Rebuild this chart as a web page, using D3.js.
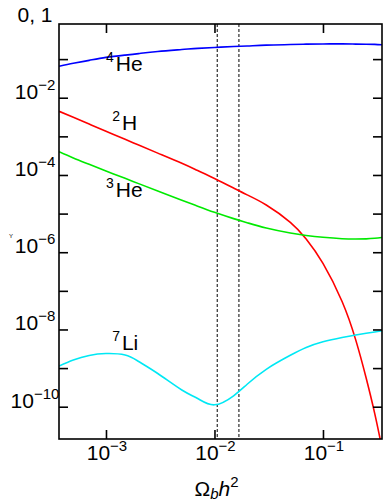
<!DOCTYPE html>
<html>
<head>
<meta charset="utf-8">
<script src="https://cdn.jsdelivr.net/npm/d3@7"></script>
<style>
  body { margin: 0; background: #fff; }
  svg { display: block; font-family: "Liberation Sans", Arial, Helvetica, sans-serif; }
</style>
</head>
<body>
<div id="chart"></div>
<script>
'use strict';

// Omega_b h^2 sample points (shared by all curves)
const omega = [0.00037, 0.0005, 0.0007, 0.001, 0.0015, 0.002, 0.003, 0.005, 0.007, 0.01,
               0.015, 0.02, 0.03, 0.05, 0.07, 0.1, 0.15, 0.2, 0.25, 0.3, 0.35];

// Abundances
const he4 = [0.065, 0.0778, 0.0929, 0.111, 0.127, 0.139, 0.158, 0.177, 0.190, 0.200,
             0.212, 0.218, 0.230, 0.238, 0.244, 0.247, 0.248, 0.245, 0.243, 0.240, 0.235];
const h2  = [4.44e-3, 3.11e-3, 2.08e-3, 1.36e-3, 8.38e-4, 5.96e-4, 3.68e-4, 2.00e-4, 1.30e-4, 8.15e-5,
             4.59e-5, 3.05e-5, 1.67e-5, 5.94e-6, 2.20e-6, 5.13e-7, 5.30e-8, 5.46e-9, 5.54e-10, 6.63e-11, 8.5e-12];
const he3 = [4.0e-4, 2.76e-4, 1.89e-4, 1.27e-4, 8.19e-5, 5.97e-5, 3.84e-5, 2.23e-5, 1.56e-5, 1.08e-5,
             7.41e-6, 5.81e-6, 4.23e-6, 3.14e-6, 2.72e-6, 2.44e-6, 2.24e-6, 2.20e-6, 2.22e-6, 2.30e-6, 2.41e-6];
const li7 = [1.13e-9, 1.62e-9, 2.12e-9, 2.38e-9, 2.18e-9, 1.48e-9, 7.24e-10, 2.71e-10, 1.63e-10, 1.12e-10,
             1.92e-10, 3.82e-10, 9.3e-10, 2.14e-9, 3.41e-9, 4.79e-9, 6.19e-9, 7.18e-9, 7.94e-9, 8.59e-9, 9.23e-9];

// observational band
const bandBounds = [0.0106, 0.0168];

// axes
const xTickValues = [1e-3, 1e-2, 1e-1];
const xTickLabels = [["10", "−3"], ["10", "−2"], ["10", "−1"]];
const yTickValues = [1e-1, 1e-2, 1e-3, 1e-4, 1e-5, 1e-6, 1e-7, 1e-8, 1e-9, 1e-10];
const yLabelValues = [1, 1e-2, 1e-4, 1e-6, 1e-8, 1e-10];
const yLabelTexts = [["0, 1", ""], ["10", "−2"], ["10", "−4"], ["10", "−6"], ["10", "−8"], ["10", "−10"]];

const series = [
    { sup: "4", name: "He", values: he4, color: "#0000ff", label: [0.001, 0.05] },
    { sup: "2", name: "H",  values: h2,  color: "#ff0000", label: [0.00114, 1.46e-3] },
    { sup: "3", name: "He", values: he3, color: "#00ea00", label: [0.001, 2.77e-5] },
    { sup: "7", name: "Li", values: li7, color: "#00e8f4", label: [0.00114, 2.94e-9] }
];

const width = 383, height = 503;
const margin = { top: 24, right: 1, bottom: 64, left: 59 };
const innerW = width - margin.left - margin.right;
const innerH = height - margin.top - margin.bottom;

const svg = d3.select("#chart").append("svg")
    .attr("width", width)
    .attr("height", height);

const x = d3.scaleLog()
    .domain([Math.pow(10, -3.433), Math.pow(10, -0.456)])
    .range([0, innerW]);

const y = d3.scaleLog()
    .domain([Math.pow(10, -10.836), Math.pow(10, -0.091)])
    .range([innerH, 0]);

svg.append("defs").append("clipPath")
    .attr("id", "plot-clip")
    .append("rect")
    .attr("width", innerW)
    .attr("height", innerH);

const chart = svg.append("g")
    .attr("transform", `translate(${margin.left},${margin.top})`);

// dashed band
chart.selectAll(".band")
    .data(bandBounds)
    .join("line")
    .attr("class", "band")
    .attr("x1", d => x(d)).attr("x2", d => x(d))
    .attr("y1", 0).attr("y2", innerH)
    .attr("stroke", "#000")
    .attr("stroke-width", 1)
    .attr("stroke-dasharray", "3 2");

// curves
const line = d3.line()
    .x((d, i) => x(omega[i]))
    .y(d => y(d))
    .curve(d3.curveNatural);

const curves = chart.append("g").attr("clip-path", "url(#plot-clip)");
curves.selectAll("path")
    .data(series)
    .join("path")
    .attr("d", d => line(d.values))
    .attr("fill", "none")
    .attr("stroke", d => d.color)
    .attr("stroke-width", 1.6);

// tick marks on all four sides, pointing inward
const tickStyle = g => {
    g.select(".domain").remove();
    g.selectAll("line").attr("stroke", "#000").attr("stroke-width", 1.6);
    g.selectAll("text").remove();
};
chart.append("g").attr("transform", `translate(0,${innerH})`)
    .call(d3.axisBottom(x).tickValues(xTickValues).tickSize(-9)).call(tickStyle);
chart.append("g")
    .call(d3.axisTop(x).tickValues(xTickValues).tickSize(-9)).call(tickStyle);
chart.append("g")
    .call(d3.axisLeft(y).tickValues(yTickValues).tickSize(-9)).call(tickStyle);
chart.append("g").attr("transform", `translate(${innerW},0)`)
    .call(d3.axisRight(y).tickValues(yTickValues).tickSize(-9)).call(tickStyle);

// frame
chart.append("rect")
    .attr("width", innerW)
    .attr("height", innerH)
    .attr("fill", "none")
    .attr("stroke", "#000")
    .attr("stroke-width", 1.6);

// x tick labels
const xl = chart.selectAll(".xlabel")
    .data(xTickValues)
    .join("text")
    .attr("class", "xlabel")
    .attr("x", d => x(d) + 1)
    .attr("y", innerH + 21)
    .attr("text-anchor", "middle")
    .attr("font-size", 21);
xl.append("tspan").text((d, i) => xTickLabels[i][0]);
xl.append("tspan").attr("dy", -9).attr("font-size", 15).text((d, i) => xTickLabels[i][1]);

// y tick labels
const yl = chart.selectAll(".ylabel")
    .data(yLabelValues)
    .join("text")
    .attr("class", "ylabel")
    .attr("x", -24)
    .attr("y", d => y(d) + 1)
    .attr("text-anchor", "middle")
    .attr("font-size", 21);
yl.append("tspan").text((d, i) => yLabelTexts[i][0]);
yl.append("tspan").attr("dy", -9).attr("font-size", 15).text((d, i) => yLabelTexts[i][1]);

// tiny y axis title
chart.append("text")
    .attr("x", -50)
    .attr("y", y(1e-6) - 14)
    .attr("font-size", 6)
    .text("Y");

// x axis title
const xt = chart.append("text")
    .attr("x", x(1e-2) + 2)
    .attr("y", innerH + 57)
    .attr("text-anchor", "middle")
    .attr("font-size", 21);
xt.append("tspan").text("Ω");
xt.append("tspan").attr("dy", 3).attr("font-size", 15).attr("font-style", "italic").text("b");
xt.append("tspan").attr("dy", -3).attr("font-style", "italic").text("h");
xt.append("tspan").attr("dy", -9).attr("font-size", 15).text("2");

// curve labels
const cl = chart.selectAll(".clabel")
    .data(series)
    .join("text")
    .attr("class", "clabel")
    .attr("x", d => x(d.label[0]))
    .attr("y", d => y(d.label[1]))
    .attr("font-size", 21);
cl.append("tspan").attr("dy", -9).attr("font-size", 14).text(d => d.sup);
cl.append("tspan").attr("dy", 9).attr("dx", 2).text(d => d.name);
</script>
</body>
</html>
